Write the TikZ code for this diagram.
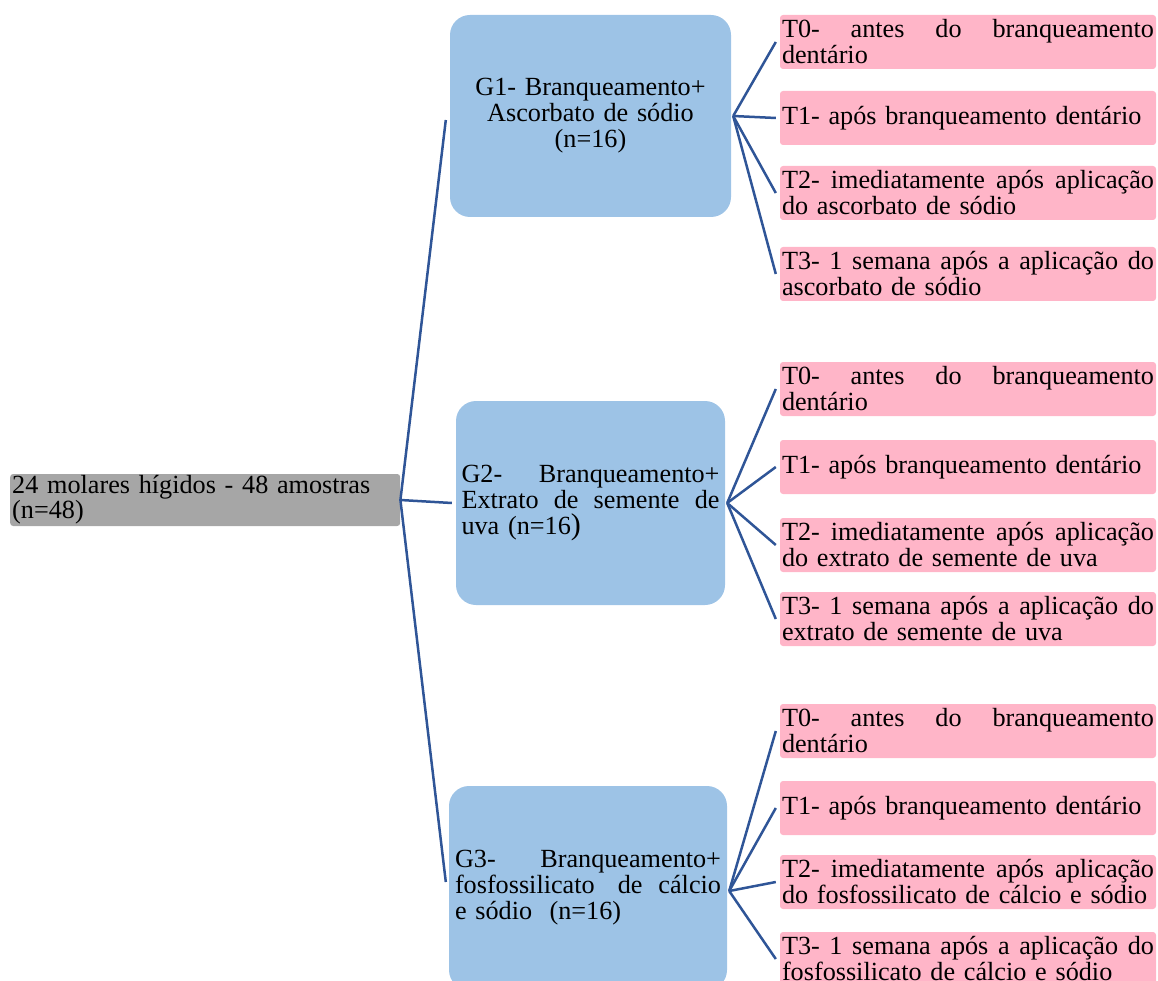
\documentclass[tikz,border=0pt]{standalone}
\usepackage{fontspec}
\setmainfont{Liberation Serif}
\definecolor{rootgray}{HTML}{A6A6A6}
\definecolor{grpblue}{HTML}{9DC3E6}
\definecolor{tpink}{HTML}{FFB5C8}
\definecolor{linkblue}{HTML}{2F5597}
\newcommand\jl[2]{\leavevmode\hbox to #1{#2}}
\begin{document}
\begin{tikzpicture}[x=1pt,y=-1pt,
  base/.style={font=\fontsize{26.2}{26}\selectfont, text=black, inner sep=0pt},
  rootbox/.style={base, font=\fontsize{26.2}{23}\selectfont, fill=rootgray, rounded corners=3pt,
    minimum width=390pt, minimum height=52pt, text width=386pt, align=left, anchor=west},
  grp/.style={base, fill=grpblue, rounded corners=20pt},
  tbox/.style={base, fill=tpink, rounded corners=3pt, minimum width=376pt,
    minimum height=54pt, text width=372pt, align=left},
  link/.style={draw=linkblue, line width=2.5pt}]
\useasboundingbox (0,0) rectangle (1158,981);

\node[rootbox] (r) at (10,500) {24 molares hígidos - 48 amostras\\(n=48)};

\node[grp, minimum width=281pt, minimum height=202pt, text width=270pt, align=center] (g1) at (590.5,116)
  {G1- Branqueamento+\\Ascorbato de sódio\\(n=16)};
\node[grp, minimum width=269pt, minimum height=204pt, text width=258pt, align=left] (g2) at (590.5,503)
  {\jl{258pt}{G2- \hfill Branqueamento+}\\\jl{258pt}{Extrato \hfill de \hfill semente \hfill de}\\uva (n=16{\fontsize{30}{26}\selectfont)}};
\node[grp, minimum width=278pt, minimum height=204pt, text width=266pt, align=left] (g3) at (588,888)
  {\jl{266pt}{G3- \hfill Branqueamento+}\\\jl{266pt}{fosfossilicato \hfill\hfill de \hfill cálcio}\\e sódio\ \ (n=16)};

% group 1
\node[tbox] (a0) at (968,42) {\jl{372pt}{T0- \hfill antes \hfill do \hfill branqueamento}\\dentário};
\node[tbox] (a1) at (968,118) {T1- após branqueamento dentário};
\node[tbox] (a2) at (968,193) {\jl{372pt}{T2- \hfill imediatamente \hfill após \hfill aplicação}\\do ascorbato de sódio};
\node[tbox] (a3) at (968,274) {\jl{372pt}{T3- \hfill 1 \hfill semana \hfill após \hfill a \hfill aplicação \hfill do}\\ascorbato de sódio};
% group 2
\node[tbox] (b0) at (968,389) {\jl{372pt}{T0- \hfill antes \hfill do \hfill branqueamento}\\dentário};
\node[tbox] (b1) at (968,467) {T1- após branqueamento dentário};
\node[tbox] (b2) at (968,545) {\jl{372pt}{T2- \hfill imediatamente \hfill após \hfill aplicação}\\do extrato de semente de uva};
\node[tbox] (b3) at (968,619) {\jl{372pt}{T3- \hfill 1 \hfill semana \hfill após \hfill a \hfill aplicação \hfill do}\\extrato de semente de uva};
% group 3
\node[tbox] (c0) at (968,731) {\jl{372pt}{T0- \hfill antes \hfill do \hfill branqueamento}\\dentário};
\node[tbox] (c1) at (968,808) {T1- após branqueamento dentário};
\node[tbox] (c2) at (968,882) {\jl{372pt}{T2- \hfill imediatamente \hfill após \hfill aplicação}\\do fosfossilicato de cálcio e sódio};
\node[tbox] (c3) at (968,959) {\jl{372pt}{T3- \hfill 1 \hfill semana \hfill após \hfill a \hfill aplicação \hfill do}\\fosfossilicato de cálcio e sódio};

% connectors root -> groups
\draw[link] (r.east) -- ([xshift=-4pt,yshift=-4pt]g1.west);
\draw[link] (r.east) -- ([xshift=-4pt]g2.west);
\draw[link] (r.east) -- ([xshift=-3pt,yshift=6pt]g3.west);

% junctions
\coordinate (j1) at ([xshift=2pt]g1.east);
\coordinate (j2) at ([xshift=2pt]g2.east);
\coordinate (j3) at ([xshift=2pt,yshift=-3pt]g3.east);

\foreach \t in {a0,a1,a2,a3} \draw[link] (j1) -- ([xshift=-4pt]\t.west);
\foreach \t in {b0,b1,b2,b3} \draw[link] (j2) -- ([xshift=-4pt]\t.west);
\foreach \t in {c0,c1,c2,c3} \draw[link] (j3) -- ([xshift=-4pt]\t.west);
\end{tikzpicture}
\end{document}
